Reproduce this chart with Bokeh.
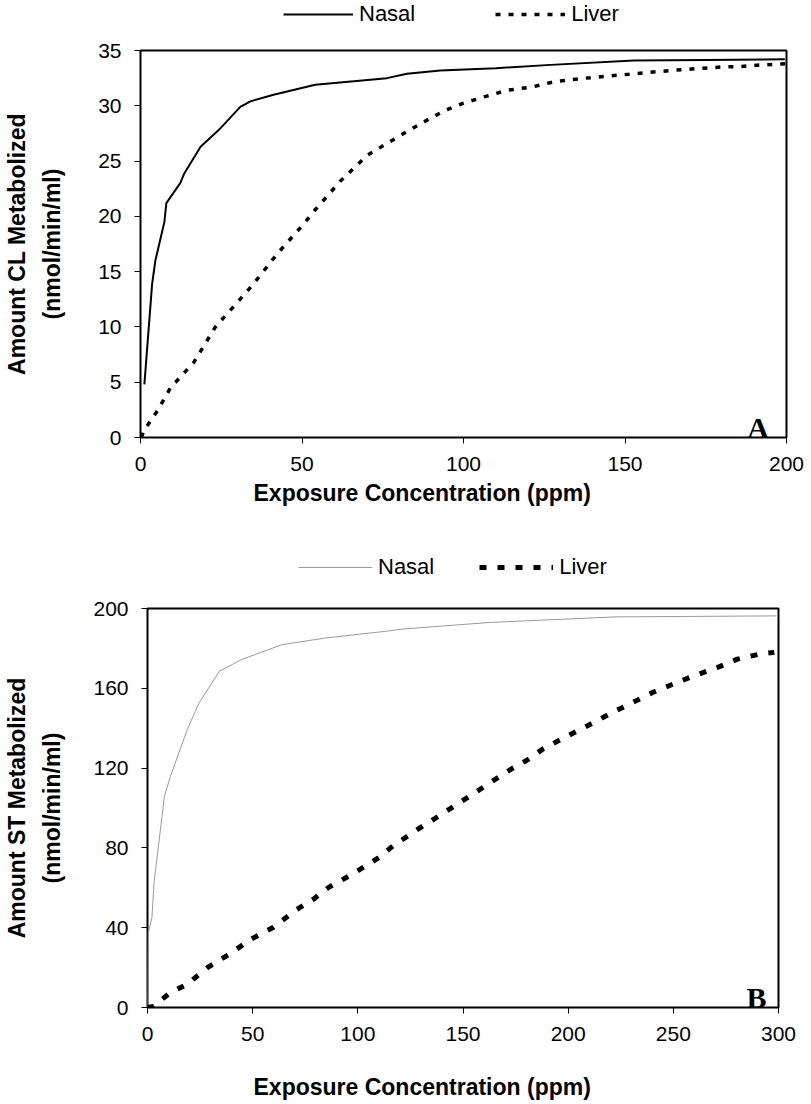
from bokeh.plotting import figure
from bokeh.models import Legend, LegendItem, Label, Title, FixedTicker, Range1d
from bokeh.embed import file_html
from bokeh.resources import INLINE

# ---------------- data ----------------
# Panel A : CL
nasal_a_x = [1.2, 3.6, 4.6, 7.4, 8.0, 12.3, 13.6, 18.6, 24.2, 30.9, 34.0, 41.2, 54.1, 76.3, 82.5, 92.8, 110, 127, 152.7, 175, 199.5]
nasal_a_y = [4.8, 13.9, 16.0, 19.5, 21.2, 23.0, 23.9, 26.3, 27.8, 29.9, 30.4, 31.0, 31.9, 32.5, 32.9, 33.2, 33.4, 33.7, 34.1, 34.15, 34.2]
liver_a_x = [0.3, 1.0, 5.2, 9.3, 16.5, 23.2, 29.9, 35.0, 42.3, 50.5, 54.1, 61.9, 70.1, 76.3, 83.3, 88.7, 94.4, 99.6, 106.3, 113.5,
             121.2, 128.5, 137.8, 145.0, 151.2, 156.8, 164.6, 171.8, 179.6, 185.8, 192.5, 199.7]
liver_a_y = [0.0, 0.6, 2.4, 4.5, 6.8, 10.0, 12.2, 13.9, 16.6, 19.3, 20.6, 23.2, 25.5, 26.6, 27.8, 28.7, 29.6, 30.2, 30.8, 31.4,
             31.7, 32.2, 32.5, 32.7, 32.85, 33.0, 33.2, 33.35, 33.5, 33.55, 33.7, 33.8]

# Panel B : ST
nasal_b_x = [0, 0.3, 2.1, 3.2, 6.9, 8.0, 10.9, 18.9, 24.5, 34.1, 44.5, 63.7, 84.5, 115, 121.3, 162.6, 222.7, 299]
nasal_b_y = [0, 37, 45, 63.5, 95.7, 105.8, 115.8, 139.3, 152.6, 168.5, 174.3, 181.8, 185.2, 188.8, 189.7, 193, 195.8, 196.3]
liver_b_x = [0, 3.0, 6.1, 10.9, 18.9, 28.5, 38.9, 49.3, 59.7, 70.1, 78.9, 86.1, 97.3, 110.1, 116.7, 128.6, 137.3, 146, 154.7,
             164.2, 172.9, 180, 187.9, 198.2, 209.2, 221.1, 232.2, 240.1, 248, 259.9, 270.9, 280.4, 290.8, 298]
liver_b_y = [0, 0.5, 3.4, 7.5, 11.7, 20, 26.7, 34.3, 40.1, 48.5, 54.3, 60.2, 66.8, 75.2, 81, 89.4, 95.2, 101.1, 107,
             113.6, 119.5, 123.7, 129.5, 135.3, 141.2, 147.9, 153.7, 157.9, 161.3, 166.3, 170.4, 174.6, 177.1, 178]

x_ticks_a = [0, 50, 100, 150, 200]
y_ticks_a = [0, 5, 10, 15, 20, 25, 30, 35]
x_ticks_b = [0, 50, 100, 150, 200, 250, 300]
y_ticks_b = [0, 40, 80, 120, 160, 200]

series_names = ["Nasal", "Liver"]
x_title = "Exposure Concentration (ppm)"
y_title_a = "Amount CL Metabolized\n(nmol/min/ml)"
y_title_b = "Amount ST Metabolized\n(nmol/min/ml)"

SANS = "Liberation Sans"
SERIF = "Liberation Serif"
W = 811

STYLE_NASAL_A = dict(line_color="black", line_width=2)
STYLE_LIVER_A = dict(line_color="black", line_width=3.5, line_dash="5 8")
STYLE_NASAL_B = dict(line_color="#999999", line_width=1)
STYLE_LIVER_B = dict(line_color="black", line_width=5, line_dash="7 11")


def style(p, xt, yt, ytitle, ylabel_standoff):
    p.xgrid.visible = False
    p.ygrid.visible = False
    p.outline_line_color = "black"
    p.outline_line_width = 2
    p.outline_line_alpha = 1
    p.background_fill_color = "white"
    p.border_fill_color = "white"
    p.xaxis.ticker = FixedTicker(ticks=xt)
    p.yaxis.ticker = FixedTicker(ticks=yt)
    for ax in (p.xaxis[0], p.yaxis[0]):
        ax.axis_line_color = None
        ax.major_tick_line_color = "black"
        ax.major_tick_out = 6
        ax.major_tick_in = 0
        ax.minor_tick_line_color = None
        ax.major_label_text_font = SANS
        ax.major_label_text_font_size = "21px"
        ax.major_label_text_color = "black"
    p.xaxis.major_label_standoff = 13
    p.yaxis.major_label_standoff = 13
    p.yaxis.axis_label = ytitle
    p.yaxis.axis_label_text_font = SANS
    p.yaxis.axis_label_text_font_style = "bold"
    p.yaxis.axis_label_text_font_size = "23px"
    p.yaxis.axis_label_text_line_height = 1.35
    p.yaxis.axis_label_text_color = "black"
    p.yaxis.axis_label_standoff = ylabel_standoff


def strip_fig(height):
    f = figure(width=W, height=height, x_range=Range1d(0, W), y_range=Range1d(0, height),
               output_backend="svg", toolbar_location=None,
               min_border_left=0, min_border_right=0, min_border_top=0, min_border_bottom=0)
    f.axis.visible = False
    f.grid.visible = False
    f.outline_line_color = None
    f.background_fill_color = "white"
    f.border_fill_color = "white"
    return f


def legend_fig(height, xs1, ys1, s1, xs2, ys2, s2, loc, spacing, glyph_width, font_size):
    lf = strip_fig(height)
    # the series are drawn here too (out of this strip's visible range) only to feed the legend glyphs
    lf.y_range = Range1d(1000, 1000 + height)
    r1 = lf.line(xs1, ys1, **s1)
    r2 = lf.line(xs2, ys2, **s2)
    leg = Legend(items=[LegendItem(label=series_names[0], renderers=[r1]),
                        LegendItem(label=series_names[1], renderers=[r2])],
                 location=loc, orientation="horizontal", glyph_width=glyph_width, glyph_height=20,
                 label_standoff=6, spacing=spacing, padding=0, margin=0,
                 background_fill_alpha=0, border_line_color=None,
                 label_text_font=SANS, label_text_font_size=font_size, label_text_color="black")
    lf.add_layout(leg)
    return lf


# ---------------- Panel A ----------------
la = legend_fig(30, nasal_a_x, nasal_a_y, STYLE_NASAL_A, liver_a_x, liver_a_y, STYLE_LIVER_A,
                (283, 3), 80, 70, "22px")

pa = figure(width=W, height=510, x_range=Range1d(0, 200), y_range=Range1d(0, 35),
            output_backend="svg", toolbar_location=None,
            min_border_left=140, min_border_right=25, min_border_top=20, min_border_bottom=103)
pa.line(nasal_a_x, nasal_a_y, **STYLE_NASAL_A)
pa.line(liver_a_x, liver_a_y, **STYLE_LIVER_A)
style(pa, x_ticks_a, y_ticks_a, y_title_a, 30)
pa.add_layout(Title(text=x_title, align="left", offset=113, standoff=8,
                    text_font=SANS, text_font_style="bold", text_font_size="23px",
                    text_color="black"), "below")
pa.add_layout(Label(x=191.2, y=0.9, text="A", text_font=SERIF, text_font_style="bold",
                    text_font_size="30px", text_align="center", text_baseline="alphabetic",
                    text_color="black"))

# ---------------- Panel B ----------------
lb = legend_fig(50, nasal_b_x, nasal_b_y, STYLE_NASAL_B, liver_b_x, liver_b_y, STYLE_LIVER_B,
                (298, 10), 45, 74, "22px")

pb = figure(width=W, height=462, x_range=Range1d(0, 300), y_range=Range1d(0, 200),
            output_backend="svg", toolbar_location=None,
            min_border_left=147, min_border_right=33, min_border_top=18, min_border_bottom=45)
pb.line(nasal_b_x, nasal_b_y, **STYLE_NASAL_B)
pb.line(liver_b_x, liver_b_y, **STYLE_LIVER_B)
style(pb, x_ticks_b, y_ticks_b, y_title_b, 25)
pb.add_layout(Label(x=289.6, y=4.9, text="B", text_font=SERIF, text_font_style="bold",
                    text_font_size="30px", text_align="center", text_baseline="alphabetic",
                    text_color="black"))

fb = strip_fig(52)
fb.add_layout(Label(x=253, y=18, text=x_title, text_font=SANS, text_font_style="bold",
                    text_font_size="23px", text_align="left", text_baseline="middle",
                    text_color="black"))

open("out.html", "w").write(file_html([la, pa, lb, pb, fb], INLINE))
